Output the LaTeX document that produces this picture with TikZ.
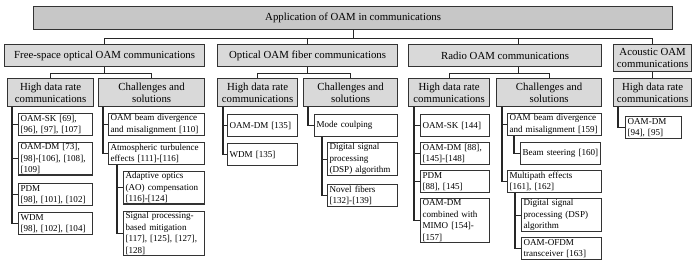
\documentclass[tikz,border=0pt]{standalone}
\usepackage{fontspec}
\setmainfont{Liberation Serif}
\usepackage{xcolor}
\usepackage{tikz}
\usetikzlibrary{calc}

\newcommand{\headsize}{\fontsize{8.1}{9.3}\selectfont}
\newcommand{\leafsize}{\fontsize{6.8}{8.7}\selectfont}

\begin{document}
\begin{tikzpicture}[
    x=0.75pt, y=-0.75pt,
    root/.style={rectangle, draw=black!80, line width=0.9pt, fill=black!22, anchor=north west, inner sep=0pt, align=center, font=\headsize},
    branch/.style={rectangle, draw=black!80, line width=0.9pt, fill=black!15, anchor=north west, inner sep=0pt, align=center, font=\headsize, minimum height=16.5pt},
    topic/.style={rectangle, draw=black!80, line width=0.9pt, fill=black!15, anchor=north west, inner sep=0pt, align=center, font=\headsize, minimum height=21pt},
    leaf/.style={rectangle, draw=black!80, line width=0.9pt, fill=white, anchor=north west, inner xsep=1.5pt, inner ysep=0.6pt, align=left, font=\leafsize, minimum height=16.5pt},
    link/.style={draw=black!85, line width=0.8pt}
]
    \useasboundingbox (0,0) rectangle (700,265);

    % Root and application areas
    \node (top) [root, minimum width=479.25pt, minimum height=17.25pt] at (33,6) {Application of OAM in communications};
    \node (fso) [branch, minimum width=150pt] at (4,44) {Free-space optical OAM communications};
    \node (fib) [branch, minimum width=135pt] at (217,44) {Optical OAM fiber communications};
    \node (rad) [branch, minimum width=144.75pt] at (408,44) {Radio OAM communications};
    \node (aco) [branch, minimum width=58.5pt, minimum height=20.25pt] at (613,44) {Acoustic OAM\\communications};

    % Second level
    \node (hdrA) [topic, minimum width=64.5pt] at (7,78) {High data rate\\communications};
    \node (chlA) [topic, minimum width=79.5pt] at (98,78) {Challenges and\\solutions};
    \node (hdrB) [topic, minimum width=60pt] at (217,78) {High data rate\\communications};
    \node (chlB) [topic, minimum width=70.5pt] at (303,78) {Challenges and\\solutions};
    \node (hdrC) [topic, minimum width=60.75pt] at (408,78) {High data rate\\communications};
    \node (chlC) [topic, minimum width=78.75pt] at (496,78) {Challenges and\\solutions};
    \node (hdrD) [topic, minimum width=58.5pt] at (613,78) {High data rate\\communications};

    % Free-space optical
    \node (skA) [leaf, text width=52.5pt] at (18,113) {OAM-SK [69],\\{[96], [97], [107]}};
    \node (dmA) [leaf, text width=52.5pt] at (18,142) {OAM-DM [73],\\{[98]-[106], [108],}\\{[109]}};
    \node (pdmA) [leaf, text width=52.5pt] at (18,183) {PDM\\{[98], [101], [102]}};
    \node (wdmA) [leaf, text width=52.5pt] at (18,212) {WDM\\{[98], [102], [104]}};
    \node (divA) [leaf, text width=69pt] at (108,113) {OAM beam divergence\\and misalignment [110]};
    \node (atmA) [leaf, text width=69pt] at (108,142) {Atmospheric turbulence\\effects [111]-[116]};
    \node (aoA) [leaf, text width=57.75pt] at (123,171) {Adaptive optics\\(AO) compensation\\{[116]-[124]}};
    \node (spA) [leaf, text width=57.75pt] at (123,211) {Signal processing-\\based mitigation\\{[117], [125], [127],}\\{[128]}};

    % Fiber
    \node (dmB) [leaf, text width=49.5pt] at (227,114) {OAM-DM [135]};
    \node (wdmB) [leaf, text width=49.5pt] at (227,143) {WDM [135]};
    \node (modB) [leaf, text width=59.25pt] at (314,114) {Mode coulping};
    \node (dspB) [leaf, text width=49.5pt] at (327,142) {Digital signal\\processing\\(DSP) algorithm};
    \node (nfB) [leaf, text width=49.5pt] at (327,184) {Novel fibers\\{[132]-[139]}};

    % Radio
    \node (skC) [leaf, text width=48.75pt] at (420,114) {OAM-SK [144]};
    \node (dmC) [leaf, text width=48.75pt] at (420,142) {OAM-DM [88],\\{[145]-[148]}};
    \node (pdmC) [leaf, text width=48.75pt] at (420,170) {PDM\\{[88], [145]}};
    \node (mimoC) [leaf, text width=48.75pt] at (420,198) {OAM-DM\\combined with\\MIMO [154]-\\{[157]}};
    \node (divC) [leaf, text width=67.5pt] at (507,113) {OAM beam divergence\\and misalignment [159]};
    \node (bsC) [leaf, text width=57pt] at (520,142) {Beam steering [160]};
    \node (mpC) [leaf, text width=67.5pt] at (507,170) {Multipath effects\\{[161], [162]}};
    \node (dspC) [leaf, text width=57pt] at (521,198) {Digital signal\\processing (DSP)\\algorithm};
    \node (ofdmC) [leaf, text width=57pt] at (521,237) {OAM-OFDM\\transceiver [163]};

    % Acoustic
    \node (dmD) [leaf, text width=39pt] at (625,116) {OAM-DM\\{[94], [95]}};

    % Tree connectors
    \coordinate (radtap) at ($(rad.north)+(13.5,0)$);
    \draw [link] (top.south) -- ++(0,8) coordinate (b0);
    \foreach \n in {fso,fib,aco} \draw [link] (b0) -| (\n.north);
    \draw [link] (b0) -| (radtap);

    \draw [link] (fso.south) -- ++(0,6) coordinate (b1);
    \draw [link] (b1) -| (hdrA.north);
    \draw [link] (b1) -| (chlA.north);
    \draw [link] (fib.south) -- ++(0,6) coordinate (b2);
    \draw [link] (b2) -| (hdrB.north);
    \draw [link] (b2) -| (chlB.north);
    \draw [link] (rad.south -| radtap) -- ++(0,6) coordinate (b3);
    \draw [link] (b3) -| (hdrC.north);
    \draw [link] (b3) -| (chlC.north);
    \draw [link] (aco.south) -- (hdrD.north);

    \foreach \n in {skA,dmA,pdmA,wdmA} \draw [link] (hdrA.south west) ++(5,0) |- (\n.west);
    \foreach \n in {divA,atmA} \draw [link] (chlA.south west) ++(5,0) |- (\n.west);
    \foreach \n in {aoA,spA} \draw [link] (atmA.south west) ++(9,0) |- (\n.west);
    \foreach \n in {dmB,wdmB} \draw [link] (hdrB.south west) ++(6,0) |- (\n.west);
    \draw [link] (chlB.south west) ++(5,0) |- (modB.west);
    \foreach \n in {dspB,nfB} \draw [link] (modB.south west) ++(8,0) |- (\n.west);
    \foreach \n in {skC,dmC,pdmC,mimoC} \draw [link] (hdrC.south west) ++(6,0) |- (\n.west);
    \foreach \n in {divC,mpC} \draw [link] (chlC.south west) ++(6,0) |- (\n.west);
    \draw [link] (divC.south west) ++(7,0) |- (bsC.west);
    \foreach \n in {dspC,ofdmC} \draw [link] (mpC.south west) ++(8,0) |- (\n.west);
    \draw [link] (hdrD.south west) ++(5,0) |- (dmD.west);
\end{tikzpicture}
\end{document}
